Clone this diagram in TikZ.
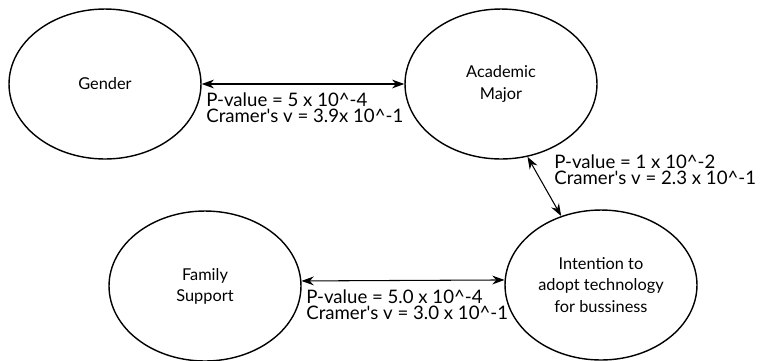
\documentclass[tikz,border=0pt]{standalone}
\usepackage{fontspec}
\setmainfont{Lato}
\usetikzlibrary{shapes.geometric,arrows.meta}

\tikzset{
  factor/.style={ellipse, draw=black, line width=0.8pt, minimum width=3.84cm,
    minimum height=3cm, inner sep=0pt, align=center,
    font=\fontsize{9.3}{12}\selectfont},
  link/.style={{Stealth[length=7pt,width=5pt]}-{Stealth[length=7pt,width=5pt]}, line width=0.6pt},
  stats/.style={anchor=north west, align=left, inner sep=0pt,
    font=\fontsize{10.6}{9.2}\selectfont}
}

\begin{document}
\begin{tikzpicture}[x=0.02cm, y=-0.02cm]

\useasboundingbox (0,0) rectangle (760,360);

% Draw the factors
\node[factor] (gender) at (105,84) {Gender};
\node[factor] (major) at (501,84) {Academic\\Major};
\node[factor] (family) at (205,286) {Family\\Support};
\node[factor] (intent) at (601,285) {Intention to\\adopt technology\\for bussiness};

% Draw the links
\draw[link] (gender) -- (major);
\draw[link] (major.290) -- (intent.120);
\draw[link] (family.3) -- (intent.177);

% Draw the test results
\node[stats] (gm) at (206,92) {P-value = 5 x 10\^{}-4\\Cramer\textquotesingle s v = 3.9x 10\^{}-1};
\node[stats] (mi) at (554,154) {P-value = 1 x 10\^{}-2\\Cramer\textquotesingle s v = 2.3 x 10\^{}-1};
\node[stats] (fi) at (306,289) {P-value = 5.0 x 10\^{}-4\\Cramer\textquotesingle s v = 3.0 x 10\^{}-1};

\end{tikzpicture}
\end{document}
